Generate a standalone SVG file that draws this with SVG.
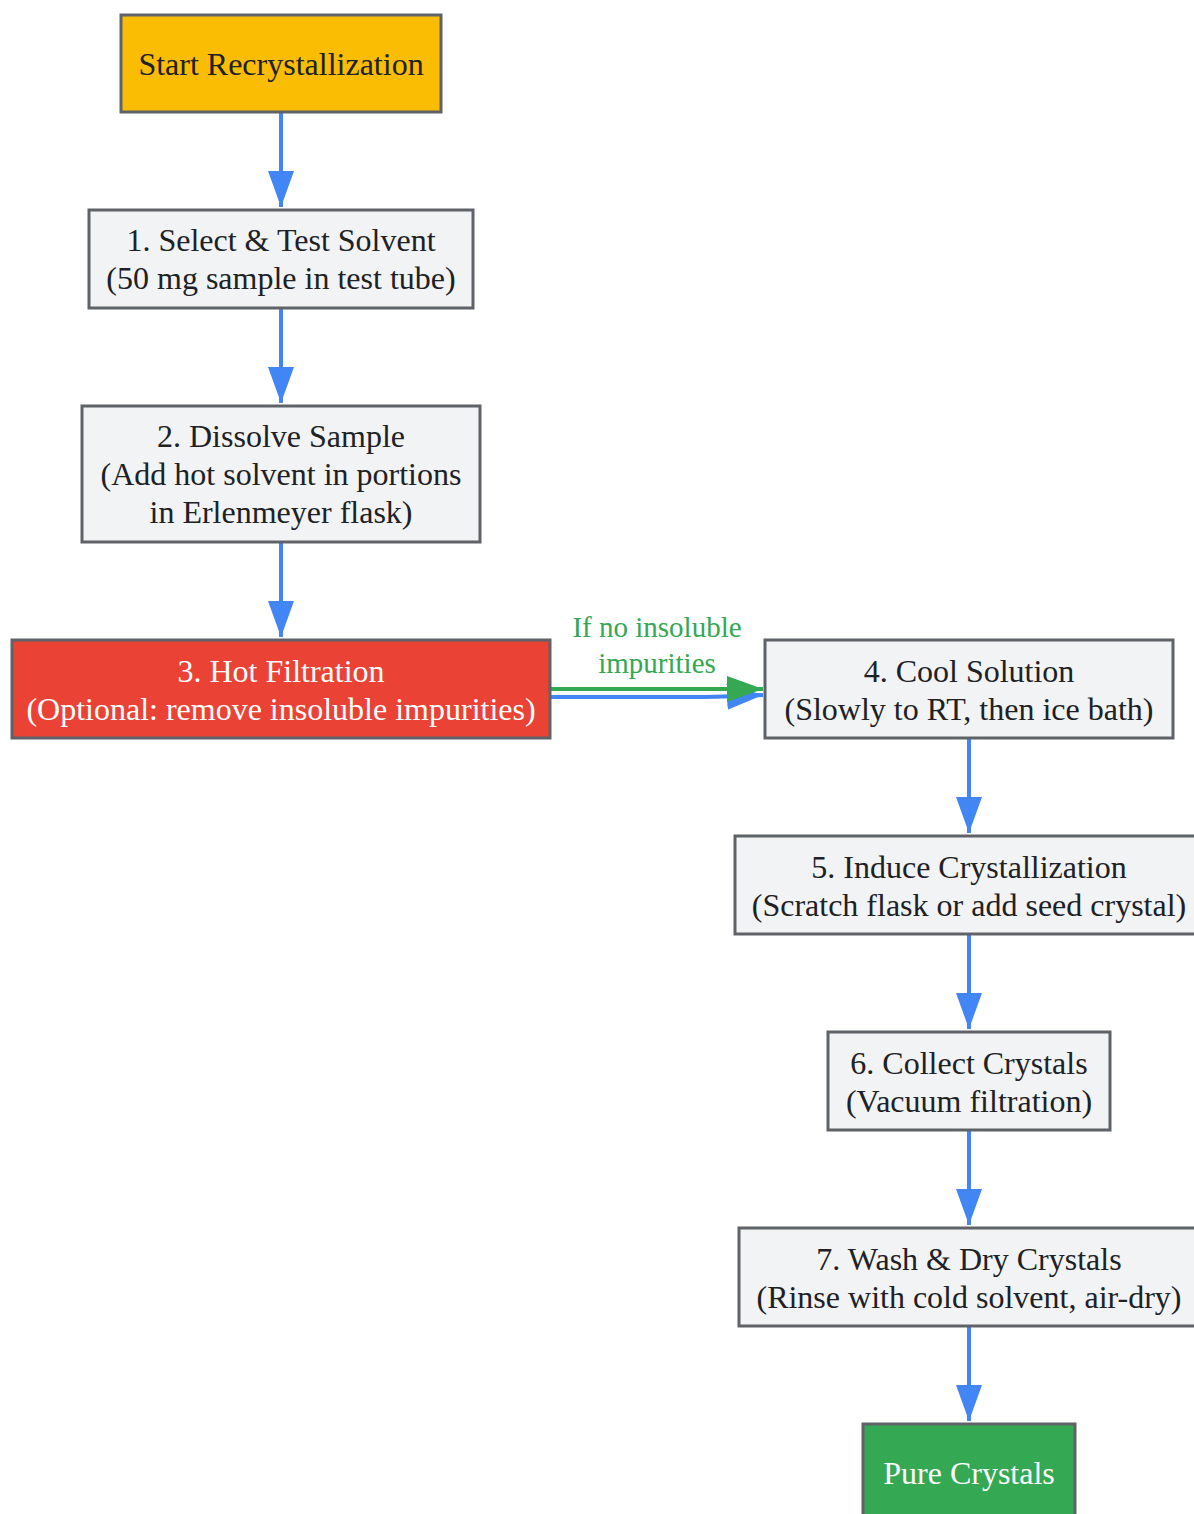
<svg xmlns="http://www.w3.org/2000/svg" width="1194" height="1514" viewBox="0 0 1194 1514">
<style>
.box{fill:#f1f3f4;stroke:#5f6368;stroke-width:3}
.t{font-family:"Liberation Serif","Times New Roman",serif;font-size:32px;fill:#202124;text-anchor:middle}
.w{fill:#ffffff}
.e{fill:none;stroke:#4285f4;stroke-width:4}
.g{fill:none;stroke:#34a853;stroke-width:4}
.lbl{font-family:"Liberation Serif","Times New Roman",serif;font-size:29px;fill:#34a853;text-anchor:middle}
</style>
<defs>
<marker id="ab" markerUnits="userSpaceOnUse" markerWidth="36" markerHeight="26" refX="36" refY="13" orient="auto"><path d="M0,0 L36,13 L0,26 Z" fill="#4285f4"/></marker>
<marker id="ag" markerUnits="userSpaceOnUse" markerWidth="36" markerHeight="26" refX="36" refY="13" orient="auto"><path d="M0,0 L36,13 L0,26 Z" fill="#34a853"/></marker>
</defs>
<rect width="1194" height="1514" fill="#ffffff"/>
<g id="connectors">
<path class="e" d="M281,113 V207" marker-end="url(#ab)"/>
<path class="e" d="M281,309 V403" marker-end="url(#ab)"/>
<path class="e" d="M281,543 V637" marker-end="url(#ab)"/>
<path class="e" d="M551,697 L690,697 Q720,697 763,695" marker-end="url(#ab)"/>
<path class="g" d="M551,689 L763,689" marker-end="url(#ag)"/>
<text class="lbl" x="657" y="637">If no insoluble</text>
<text class="lbl" x="657" y="673">impurities</text>
<path class="e" d="M969,739 V833" marker-end="url(#ab)"/>
<path class="e" d="M969,935 V1029" marker-end="url(#ab)"/>
<path class="e" d="M969,1131 V1225" marker-end="url(#ab)"/>
<path class="e" d="M969,1327 V1421" marker-end="url(#ab)"/>
</g>
<g id="start">
<rect class="box" x="121" y="15" width="320" height="97" style="fill:#fbbc04"/>
<text class="t" x="281" y="75">Start Recrystallization</text>
</g>
<g id="step1">
<rect class="box" x="89" y="210" width="384" height="98"/>
<text class="t" x="281" y="251">1. Select &amp; Test Solvent</text>
<text class="t" x="281" y="289">(50 mg sample in test tube)</text>
</g>
<g id="step2">
<rect class="box" x="82" y="406" width="398" height="136"/>
<text class="t" x="281" y="447">2. Dissolve Sample</text>
<text class="t" x="281" y="485">(Add hot solvent in portions</text>
<text class="t" x="281" y="523">in Erlenmeyer flask)</text>
</g>
<g id="step3">
<rect class="box" x="12" y="640" width="538" height="98" style="fill:#ea4335"/>
<text class="t w" x="281" y="682">3. Hot Filtration</text>
<text class="t w" x="281" y="720">(Optional: remove insoluble impurities)</text>
</g>
<g id="step4">
<rect class="box" x="765" y="640" width="408" height="98"/>
<text class="t" x="969" y="682">4. Cool Solution</text>
<text class="t" x="969" y="720">(Slowly to RT, then ice bath)</text>
</g>
<g id="step5">
<rect class="box" x="735" y="836" width="468" height="98"/>
<text class="t" x="969" y="878">5. Induce Crystallization</text>
<text class="t" x="969" y="916">(Scratch flask or add seed crystal)</text>
</g>
<g id="step6">
<rect class="box" x="828" y="1032" width="282" height="98"/>
<text class="t" x="969" y="1074">6. Collect Crystals</text>
<text class="t" x="969" y="1112">(Vacuum filtration)</text>
</g>
<g id="step7">
<rect class="box" x="739" y="1228" width="460" height="98"/>
<text class="t" x="969" y="1270">7. Wash &amp; Dry Crystals</text>
<text class="t" x="969" y="1308">(Rinse with cold solvent, air-dry)</text>
</g>
<g id="pure">
<rect class="box" x="863" y="1424" width="212" height="98" style="fill:#34a853"/>
<text class="t w" x="969" y="1484">Pure Crystals</text>
</g>
</svg>
